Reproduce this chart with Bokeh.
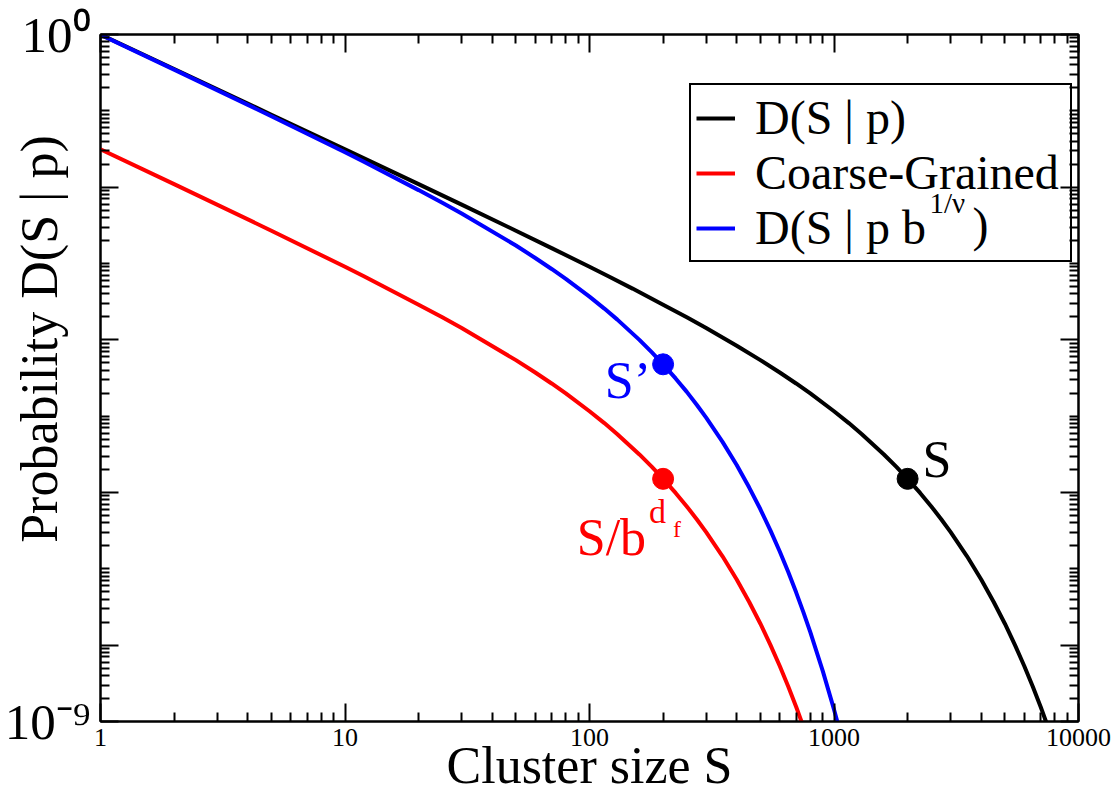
from bokeh.plotting import figure
from bokeh.models import (Range1d, LogAxis, FixedTicker, Label, Legend, LegendItem,
                          CustomJSTickFormatter)
from bokeh.embed import file_html
from bokeh.resources import INLINE

FONT = "Liberation Serif"
W, H = 1119, 803

# ---- data ----
s_black = [1, 2, 5, 10, 20, 30, 50, 70, 100, 120, 150, 200, 250, 300, 400, 500, 600, 700, 800,
           1000, 1150, 1300, 1600, 1800, 2000, 2250, 2500, 2750, 3000, 3500, 4000, 4500, 5000,
           5500, 6000, 6500, 7000, 7500]
d_black = [0.999, 0.3528, 0.0890, 0.03131, 0.01096, 0.005906, 0.00269, 0.001592, 9.05e-4,
           6.747e-4, 4.69e-4, 2.89e-4, 1.970e-4, 1.43e-4, 8.38e-5, 5.42e-5, 3.734e-5, 2.68e-5,
           1.986e-5, 1.16e-5, 8.12e-6, 5.81e-6, 3.15e-6, 2.165e-6, 1.51e-6, 9.88e-7, 6.57e-7,
           4.43e-7, 3.03e-7, 1.46e-7, 7.24e-8, 3.68e-8, 1.91e-8, 1.00e-8, 5.33e-9, 2.87e-9,
           1.56e-9, 8.5e-10]

s_blue = [1, 2, 5, 10, 12, 20, 25, 30, 50, 60, 70, 80, 100, 115, 130, 160, 180, 200, 225, 250,
          275, 300, 350, 400, 450, 500, 550, 600, 650, 700, 750, 800, 900, 1000, 1050]
d_blue = [0.990, 0.3466, 0.0851, 0.02861, 0.02134, 0.00915, 0.00623, 0.00451, 0.00172,
          0.001181, 8.48e-4, 6.28e-4, 3.68e-4, 2.568e-4, 1.84e-4, 9.98e-5, 6.845e-5, 4.78e-5,
          3.123e-5, 2.08e-5, 1.402e-5, 9.58e-6, 4.61e-6, 2.29e-6, 1.16e-6, 6.03e-7, 3.17e-7,
          1.69e-7, 9.07e-8, 4.92e-8, 2.69e-8, 1.48e-8, 4.57e-9, 1.44e-9, 8.1e-10]

s_red = [1, 2, 5, 10, 12, 20, 25, 30, 50, 60, 70, 80, 100, 115, 130, 160, 180, 200, 225, 250,
         275, 300, 350, 400, 450, 500, 550, 600, 650, 700, 750]
d_red = [0.0313, 0.01096, 0.00269, 9.05e-4, 6.747e-4, 2.89e-4, 1.970e-4, 1.43e-4, 5.42e-5,
         3.734e-5, 2.68e-5, 1.986e-5, 1.16e-5, 8.12e-6, 5.81e-6, 3.155e-6, 2.165e-6, 1.51e-6,
         9.88e-7, 6.57e-7, 4.43e-7, 3.03e-7, 1.46e-7, 7.24e-8, 3.68e-8, 1.91e-8, 1.00e-8,
         5.33e-9, 2.87e-9, 1.56e-9, 8.5e-10]

# marked points
pt_black = (2000, 1.51e-6)
pt_blue = (200, 4.78e-5)
pt_red = (200, 1.51e-6)

legend_labels = ["D(S | p)", "Coarse-Grained", "D(S | p b"]
x_title = "Cluster size S"
y_title = "Probability D(S | p)"

x_major = [1, 10, 100, 1000, 10000]
x_minor = [m * 10 ** e for e in range(0, 4) for m in range(2, 10)]
y_major = [1e0, 1e-2, 1e-4, 1e-6, 1e-8, 1e-9]
y_minor = [m * 10.0 ** e for e in range(-9, 0) for m in range(1, 10)
           if not (m == 1 and (e % 2 == 0 or e == -9))]

p = figure(width=W, height=H, x_axis_type="log", y_axis_type="log",
           x_range=Range1d(1, 10000), y_range=Range1d(1e-9, 1),
           output_backend="svg", toolbar_location=None,
           min_border_left=100, min_border_right=41, min_border_top=34, min_border_bottom=82)
p.xgrid.visible = False
p.ygrid.visible = False
p.outline_line_color = "black"
p.outline_line_width = 2
p.background_fill_color = "white"
p.border_fill_color = "white"


def style(ax, major, minor, label_size=None, standoff=0):
    ax.ticker = FixedTicker(ticks=major, minor_ticks=minor)
    ax.axis_line_color = "black"
    ax.axis_line_width = 2
    ax.major_tick_line_color = "black"
    ax.major_tick_line_width = 2
    ax.minor_tick_line_color = "black"
    ax.minor_tick_line_width = 2
    ax.major_tick_in = 18
    ax.major_tick_out = 0
    ax.minor_tick_in = 9
    ax.minor_tick_out = 0
    if label_size:
        ax.major_label_text_font = FONT
        ax.major_label_text_font_size = label_size
        ax.major_label_text_color = "black"
        ax.major_label_standoff = standoff
    else:
        ax.major_label_text_font_size = "8px"
        ax.major_label_text_color = None
        ax.major_label_standoff = 0


def title(ax, text, standoff):
    ax.axis_label = text
    ax.axis_label_text_font = FONT
    ax.axis_label_text_font_size = "52px"
    ax.axis_label_text_font_style = "normal"
    ax.axis_label_text_color = "black"
    ax.axis_label_standoff = standoff


xa = p.xaxis[0]
style(xa, x_major, x_minor, "26px", 7)
xa.major_label_overrides = {1: "1", 10: "10", 100: "100", 1000: "1000", 10000: "10000"}
title(xa, x_title, -12)

ya = p.yaxis[0]
style(ya, y_major, y_minor, "51px", 10)
ya.formatter = CustomJSTickFormatter(code="""
if (tick > 0.5) { return "10\u2070"; }
if (tick < 2e-9) { return "10\u207b\u2079"; }
return "";
""")
title(ya, "\u00a0" * 6 + y_title, -66)

top = LogAxis()
style(top, x_major, x_minor)
p.add_layout(top, "above")
right = LogAxis()
style(right, y_major, y_minor)
p.add_layout(right, "right")

r_black = p.line(s_black, d_black, line_color="black", line_width=4)
r_red = p.line(s_red, d_red, line_color="#ff0000", line_width=4)
r_blue = p.line(s_blue, d_blue, line_color="#0000ff", line_width=4)

p.scatter([pt_black[0]], [pt_black[1]], size=21, color="black")
p.scatter([pt_red[0]], [pt_red[1]], size=21, color="#ff0000")
p.scatter([pt_blue[0]], [pt_blue[1]], size=21, color="#0000ff")

legend = Legend(items=[LegendItem(label=legend_labels[0], renderers=[r_black]),
                       LegendItem(label=legend_labels[1], renderers=[r_red]),
                       LegendItem(label=legend_labels[2], renderers=[r_blue])],
                location=(589, 459), label_text_font=FONT, label_text_font_size="48px",
                label_text_color="black", label_width=310,
                glyph_width=39, glyph_height=40, label_standoff=20, padding=5, spacing=-5,
                margin=0, border_line_color="black", border_line_width=2, border_line_alpha=1,
                background_fill_alpha=0)
p.add_layout(legend)

SHIFT = 0.35  # baseline correction (fraction of font size)


def lab(x, y, text, size, color="black", dx=0, dy=0, align="left"):
    """label anchored on a data point (inside the frame)"""
    p.add_layout(Label(x=x, y=y, text=text, x_offset=dx, y_offset=dy + SHIFT * size,
                       text_font=FONT, text_font_size=f"{size}px", text_color=color,
                       text_align=align, text_baseline="alphabetic", level="overlay"))


# legend superscript part
lab(10000, 1, "1/\u03bd", 29, dx=-149, dy=-179)
lab(10000, 1, ")", 48, dx=-106, dy=-207)

# point annotations
lab(pt_black[0], pt_black[1], "S", 52, dx=15, dy=1)
lab(pt_blue[0], pt_blue[1], "S\u2019", 52, color="#0000ff", dx=-12, dy=-34, align="right")
lab(pt_red[0], pt_red[1], "S/b", 52, color="#ff0000", dx=-17, dy=-77, align="right")
lab(pt_red[0], pt_red[1], "d", 34, color="#ff0000", dx=-14, dy=-45)
lab(pt_red[0], pt_red[1], "f", 24, color="#ff0000", dx=10, dy=-59)

open("out.html", "w").write(file_html(p, INLINE))
